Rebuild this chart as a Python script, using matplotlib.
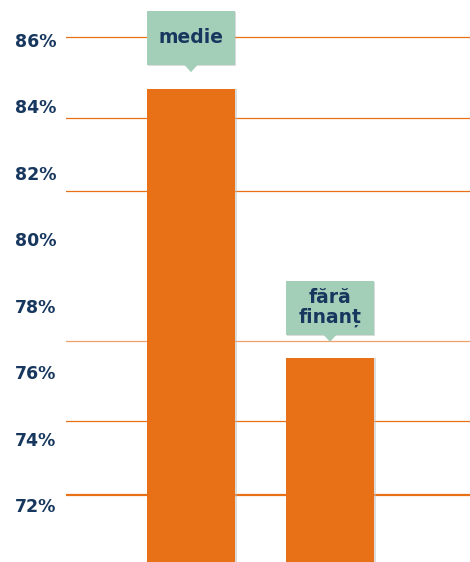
import matplotlib.pyplot as plt
from matplotlib.patches import Rectangle, Polygon
import matplotlib.patheffects as pe

# data
categories = ["medie", "fără\nfinanț"]
values = [84.53, 76.42]
tick_values = [72, 74, 76, 78, 80, 82, 84, 86]
tick_labels = ["72%", "74%", "76%", "78%", "80%", "82%", "84%", "86%"]
# the orange rules are not drawn on the tick positions in the original
grid_levels = [86.1, 83.65, 81.45, 76.95, 74.55, 72.3]

orange = "#E87117"
navy = "#17375E"
green = "#A3CFB9"

fig = plt.figure(figsize=(4.7, 5.62), dpi=100)
ax = fig.add_axes([66 / 470, 0, 404 / 470, 1])

x = list(range(len(categories)))
width = 0.633
base = 60
bars = ax.bar(x, [v - base for v in values], bottom=base, width=width,
              color=orange, zorder=3)
for b in bars:
    b.set_path_effects([pe.SimplePatchShadow(offset=(1.5, 0), shadow_rgbFace="#bbbbbb", alpha=0.5),
                        pe.Normal()])

for i, g in enumerate(grid_levels):
    lw = 1.6 if i == len(grid_levels) - 1 else 0.9
    col = "#F0A06A" if g == 76.95 else orange
    ax.axhline(g, color=col, lw=lw, zorder=1)

# callout boxes above the bars
gap, h, tip = 0.72, 1.62, 0.22
for xi, v, lab in zip(x, values, categories):
    y0 = v + gap
    box = Rectangle((xi - width / 2, y0), width, h, facecolor=green,
                    edgecolor="none", zorder=5)
    box.set_path_effects([pe.SimplePatchShadow(offset=(1, -1), shadow_rgbFace="#999999", alpha=0.35),
                          pe.Normal()])
    ax.add_patch(box)
    ax.add_patch(Polygon([(xi - 0.05, y0 + 0.01), (xi + 0.05, y0 + 0.01), (xi, y0 - tip)],
                         closed=True, facecolor=green, edgecolor="none", zorder=5))
    ax.text(xi, y0 + h / 2, lab, ha="center", va="center", fontsize=13.5,
            fontweight="heavy", color=navy, zorder=6, linespacing=1.0)

ax.set_xlim(-0.899, 2.007)
ax.set_ylim(70.30, 87.20)
ax.set_yticks(tick_values)
ax.set_yticklabels(tick_labels)
ax.set_xticks([])
ax.tick_params(axis="y", length=0, pad=7, labelsize=12.5, labelcolor=navy)
for t in ax.get_yticklabels():
    t.set_fontweight("bold")
for s in ax.spines.values():
    s.set_visible(False)

fig.savefig("out.png", dpi=100)
